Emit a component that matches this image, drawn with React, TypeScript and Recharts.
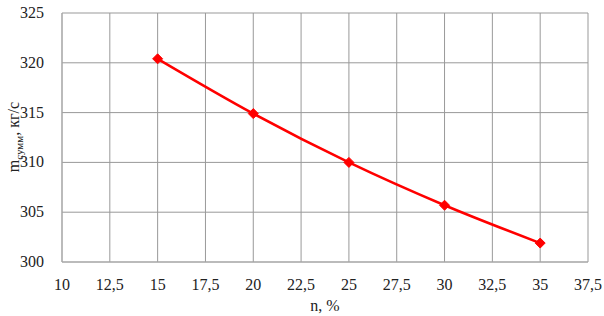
import React from "react";
import { LineChart, Line, XAxis, YAxis, CartesianGrid } from "recharts";

const nValues = [15, 20, 25, 30, 35];
const mValues = [320.4, 314.9, 310.0, 305.7, 301.9];
const xTicks = [10, 12.5, 15, 17.5, 20, 22.5, 25, 27.5, 30, 32.5, 35, 37.5];
const yTicks = [300, 305, 310, 315, 320, 325];

const data = nValues.map((n, i) => ({ n, m: mValues[i] }));

const font = "Liberation Serif";
const textColor = "#222";

const Diamond = (props: any) => {
  const { cx, cy } = props;
  if (cx == null || cy == null) return null;
  const s = 5;
  return (
    <polygon
      points={`${cx},${cy - s} ${cx + s},${cy} ${cx},${cy + s} ${cx - s},${cy}`}
      fill="#ff0000"
      stroke="#ff0000"
    />
  );
};

const XTick = (props: any) => {
  const { x, y, payload } = props;
  return (
    <text
      x={x}
      y={y + 16}
      textAnchor="middle"
      style={{ fontFamily: font, fontSize: 16, fill: textColor }}
    >
      {String(payload.value).replace(".", ",")}
    </text>
  );
};

const YTick = (props: any) => {
  const { x, y, payload } = props;
  return (
    <text
      x={x}
      y={y + 5}
      textAnchor="end"
      style={{ fontFamily: font, fontSize: 16, fill: textColor }}
    >
      {String(payload.value)}
    </text>
  );
};

const YLabel = () => (
  <text
    transform="translate(19,137) rotate(-90)"
    textAnchor="middle"
    style={{ fontFamily: font, fontSize: 16, fill: textColor }}
  >
    m<tspan style={{ fontSize: 11 }} dy={4}>сумм</tspan>
    <tspan dy={-4}>, кг/с</tspan>
  </text>
);

export default function App() {
  return (
    <div style={{ position: "absolute", left: 0, top: 0, background: "#fff", fontFamily: font }}>
      <LineChart
        width={604}
        height={316}
        data={data}
        margin={{ top: 13, right: 16, bottom: 0, left: 0 }}
      >
        <CartesianGrid stroke="#999" strokeWidth={1} />
        <XAxis
          dataKey="n"
          type="number"
          domain={[10, 37.5]}
          ticks={xTicks}
          interval={0}
          tickLine={false}
          axisLine={{ stroke: "#aaa" }}
          tick={<XTick />}
          tickMargin={6}
          height={54}
          label={{
            value: "n, %",
            position: "insideBottom",
            offset: 5,
            style: { fontFamily: font, fontSize: 16, fill: textColor },
          }}
        />
        <YAxis
          type="number"
          domain={[300, 325]}
          ticks={yTicks}
          interval={0}
          tickLine={false}
          axisLine={{ stroke: "#aaa" }}
          tick={<YTick />}
          tickMargin={12}
          width={62}
          label={{ content: () => <YLabel /> }}
        />
        <Line
          type="monotone"
          dataKey="m"
          stroke="#ff0000"
          strokeWidth={2.5}
          dot={<Diamond />}
          activeDot={false}
          isAnimationActive={false}
        />
      </LineChart>
    </div>
  );
}
